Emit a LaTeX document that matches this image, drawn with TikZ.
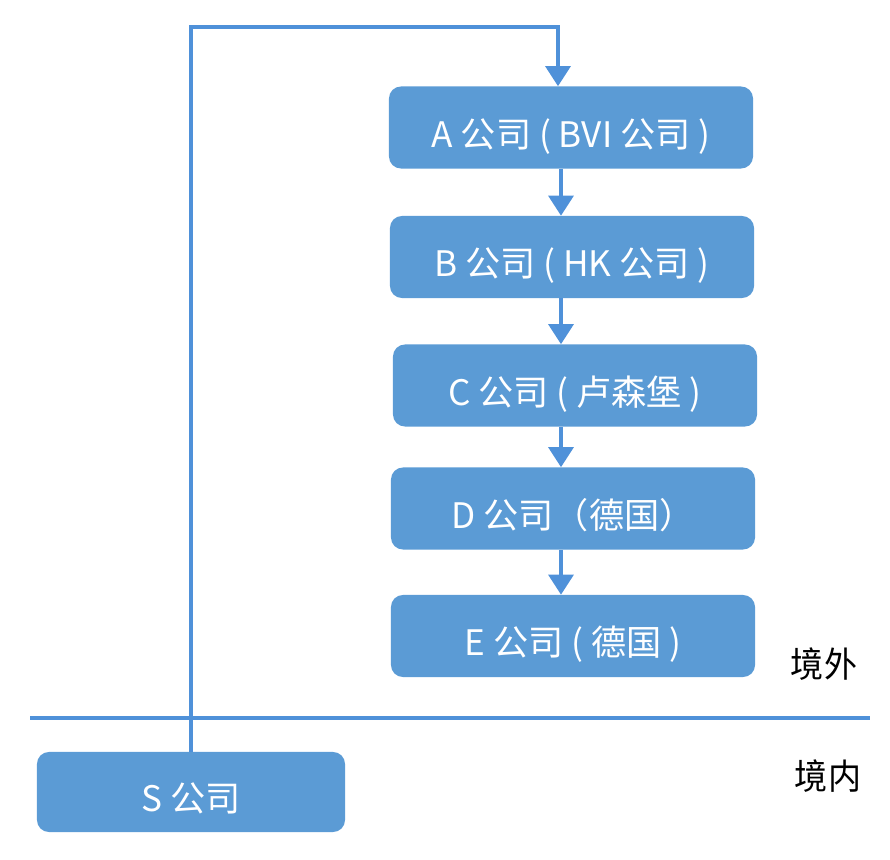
\documentclass[tikz,border=0pt]{standalone}
\usepackage{fontspec}
\newfontfamily\cjk{Noto Sans CJK SC}
\usetikzlibrary{arrows.meta}
\definecolor{boxblue}{HTML}{5B9BD5}
\definecolor{lineblue}{HTML}{4F91D9}
\tikzset{
  company/.style={fill=boxblue, rounded corners=0.3cm, text=white, font=\cjk\fontsize{25}{28}\selectfont, minimum width=9.1cm, minimum height=2.05cm, inner sep=0pt, text height=28pt, text depth=0pt},
  link/.style={line width=2.6pt, color=lineblue},
  arr/.style={link, -{Triangle[length=0.5cm, width=0.62cm]}},
  zone/.style={font=\cjk\fontsize{25}{28}\selectfont, text=black, xscale=0.94}
}

\begin{document}
\begin{tikzpicture}[x=0.025cm, y=-0.025cm]
			%%%%% START %%%%%
			
			\useasboundingbox (0, 0) rectangle (890, 860);
			
			\node[company] (A) at (571, 127.5) {A 公司 ( BVI 公司 )};
			\node[company] (B) at (572, 257) {B 公司 ( HK 公司 )};
			\node[company] (C) at (575, 385.5) {C 公司 ( 卢森堡 )};
			\node[company] (D) at (573, 508.5) {D 公司（德国）};
			\node[company] (E) at (573, 636) {E 公司 ( 德国 )};
			\node[company, minimum width=7.7cm, minimum height=2cm] (S) at (191, 792) {S 公司};
			
			\node[zone] (out) at (824, 664) {境外};
			\node[zone] (in) at (828, 776) {境内};
			
			\coordinate (turn) at (558, 27);
			\coordinate (chain) at (561, 0);
			\coordinate (bl) at (30, 718);
			\coordinate (br) at (870, 718);
			
			\draw[link] (bl) -- (br);
			
			\draw[arr] (S.north) |- (turn) -- (turn |- A.north);
			
			\draw[arr] (A.south -| chain) -- (B.north -| chain);
			\draw[arr] (B.south -| chain) -- (C.north -| chain);
			\draw[arr] (C.south -| chain) -- (D.north -| chain);
			\draw[arr] (D.south -| chain) -- (E.north -| chain);
			
			%%%%% END %%%%%
\end{tikzpicture}
\end{document}
